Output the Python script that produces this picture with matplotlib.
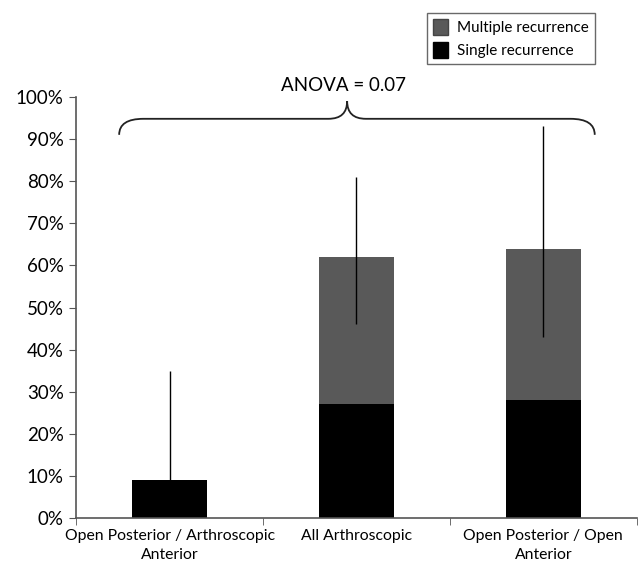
import numpy as np
import matplotlib.pyplot as plt
from matplotlib.path import Path
from matplotlib.patches import PathPatch, Patch
from matplotlib.ticker import PercentFormatter, FixedLocator

plt.rcParams['font.family'] = ['Lato', 'DejaVu Sans']

# recurrence rates (%) per surgical group
groups = ['Open Posterior / Arthroscopic\nAnterior', 'All Arthroscopic',
          'Open Posterior / Open\nAnterior']
single = [9, 27, 28]
multiple = [0, 35, 36]
ci_low = [9, 46, 43]
ci_high = [35, 81, 93]
anova_p = 0.07

total = np.array(single) + np.array(multiple)
x = np.arange(len(groups))

fig = plt.figure(figsize=(6.4, 5.7), dpi=100)
ax = fig.add_axes([0.119, 0.091, 0.876, 0.739])

ax.bar(x, single, width=0.4, color='black', label='Single recurrence')
ax.bar(x, multiple, width=0.4, bottom=single, color='#595959',
       label='Multiple recurrence')
ax.errorbar(x, total, yerr=[total - np.array(ci_low), np.array(ci_high) - total],
            fmt='none', ecolor='black', elinewidth=1, capsize=0)

ax.set_xlim(-0.5, 2.5)
ax.set_ylim(0, 100)
ax.yaxis.set_major_locator(FixedLocator(np.arange(0, 101, 10)))
ax.yaxis.set_major_formatter(PercentFormatter(decimals=0))
ax.set_xticks(x)
ax.set_xticklabels(groups, fontsize=11.3, linespacing=1.4)
ax.xaxis.set_minor_locator(FixedLocator([-0.5, 0.5, 1.5, 2.5]))
ax.tick_params(axis='x', which='major', length=0, pad=8)
ax.tick_params(axis='x', which='minor', length=5, color='#555555')
ax.tick_params(axis='y', length=5, color='#555555', labelsize=13.5, pad=4)
for s in ['top', 'right']:
    ax.spines[s].set_visible(False)
for s in ['left', 'bottom']:
    ax.spines[s].set_color('#555555')
    ax.spines[s].set_linewidth(1.2)

# curly brace spanning all groups
xl, xr, xm = -0.27, 2.275, 0.95
yb, yh, yp = 91, 94.8, 99
verts = [(xl, yb), (xl, yh), (xl + 0.13, yh),
         (xm - 0.1, yh),
         (xm, yh), (xm, yp),
         (xm, yh), (xm + 0.1, yh),
         (xr - 0.13, yh),
         (xr, yh), (xr, yb)]
codes = [Path.MOVETO, Path.CURVE3, Path.CURVE3,
         Path.LINETO,
         Path.CURVE3, Path.CURVE3,
         Path.CURVE3, Path.CURVE3,
         Path.LINETO,
         Path.CURVE3, Path.CURVE3]
ax.add_patch(PathPatch(Path(verts, codes), fill=False, lw=1.3,
                       edgecolor='#222222', clip_on=False))
ax.text(0.93, 102.6, f'ANOVA = {anova_p:.2f}', ha='center', va='center',
        fontsize=13.5, clip_on=False)

handles = [Patch(facecolor='#595959', edgecolor='#444444'),
           Patch(facecolor='black', edgecolor='black')]
fig.legend(handles, ['Multiple recurrence', 'Single recurrence'],
           loc='upper left', bbox_to_anchor=(0.655, 0.99), fontsize=11,
           frameon=True, fancybox=False, edgecolor='#444444',
           handlelength=1.0, handleheight=1.2, handletextpad=0.6,
           labelspacing=0.45, borderpad=0.4)

fig.savefig('out.png', dpi=100)
